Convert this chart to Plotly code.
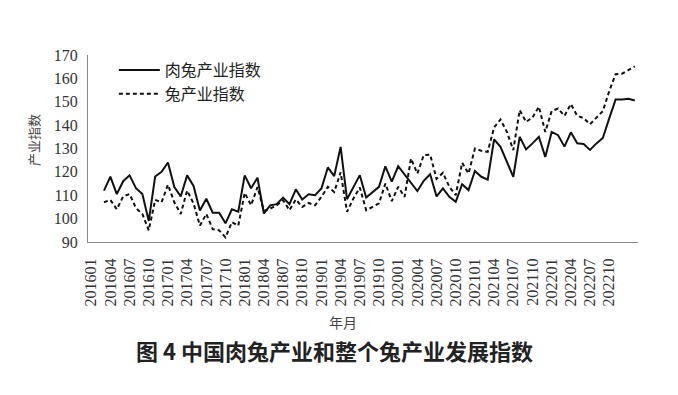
import plotly.graph_objects as go

# Axis categories (months), tick labels and series values
axis_months = [f"{y}{m:02d}" for y in range(2016, 2024) for m in range(1, 13)]
axis_months = axis_months[:axis_months.index("202302") + 1]
data_months = axis_months[2:]

tick_labels = ["201601", "201604", "201607", "201610", "201701", "201704", "201707", "201710",
               "201801", "201804", "201807", "201810", "201901", "201904", "201907", "201910",
               "202001", "202004", "202007", "202010", "202101", "202104", "202107", "202110",
               "202201", "202204", "202207", "202210"]

meat_rabbit_index = [
    112, 118, 110.5, 116, 118.5, 113, 110.5, 99, 118, 120,
    124, 113.5, 109.5, 118.5, 114, 103.5, 108.5, 102.5, 102.5, 98,
    104, 103, 118.5, 113, 117.5, 102.2, 105.7, 106.2, 109, 106.2,
    112.5, 108.2, 110.4, 110, 112.9, 121.9, 118.2, 130.7, 108.3, 113.6,
    118.6, 109, 111.4, 113.6, 122.4, 115.8, 122.4, 118.8, 115, 111.8,
    116.2, 119, 109.5, 112.9, 109.3, 107.2, 114.7, 112.2, 120.4, 117.9,
    116.7, 133.9, 130.7, 124.3, 117.9, 135, 129.6, 132.2, 135, 126.4,
    137.1, 135.7, 130.8, 136.9, 132.2, 131.9, 129.4, 132.2, 134.5, 142.9,
    151, 151, 151.3, 150.5]

rabbit_index = [
    107, 108, 104, 109.5, 110.5, 104.5, 102, 95, 108, 107,
    114.5, 107, 102, 112, 106.5, 97, 102, 95.5, 95, 92,
    98.5, 97, 111, 105.7, 113.5, 103.3, 104.3, 105.7, 107.9, 103.6,
    108.2, 105, 106.7, 105.7, 109.3, 113.6, 111.4, 119.8, 102.9, 108.6,
    113.3, 103.6, 105, 106.5, 115, 107.5, 113.6, 109.3, 125.7, 119.3,
    127.2, 127.4, 117, 119.6, 113.6, 110, 123.9, 119.3, 130, 129,
    128.6, 139, 142.4, 137.1, 129.3, 146.4, 141.4, 143.3, 147.9, 137.1,
    146, 147.1, 144, 149, 144, 143, 140.4, 143, 146, 154.5,
    161.8, 162, 163.6, 165.1]

fig = go.Figure()
fig.add_trace(go.Scatter(x=data_months, y=meat_rabbit_index, mode="lines",
                         name="肉兔产业指数", line=dict(color="#111111", width=2)))
fig.add_trace(go.Scatter(x=data_months, y=rabbit_index, mode="lines",
                         name="兔产业指数", line=dict(color="#111111", width=2, dash="4px,3px")))

serif = "Liberation Serif, Times New Roman, serif"
legend_font = "Liberation Serif, Noto Sans CJK SC"
cjk = "Noto Sans CJK SC"

fig.update_layout(
    width=678, height=395,
    margin=dict(l=80, r=48, t=47, b=161),
    paper_bgcolor="white", plot_bgcolor="white",
    showlegend=True,
    legend=dict(x=0.047, y=1.01, xanchor="left", yanchor="top",
                bgcolor="rgba(0,0,0,0)", font=dict(family=legend_font, size=16, color="#222222"),
                tracegroupgap=0, itemwidth=41),
    xaxis=dict(type="category", categoryorder="array", categoryarray=axis_months,
               range=[-0.5, len(axis_months) - 0.5],
               tickmode="array", tickvals=tick_labels, ticktext=tick_labels,
               tickangle=-90, tickfont=dict(family=serif, size=16, color="#333333"),
               showgrid=False, zeroline=False, showline=True, linecolor="#8a8a8a", linewidth=1,
               ticks="", ticklabelstandoff=9),
    yaxis=dict(range=[90, 170], dtick=10, tick0=90,
               tickfont=dict(family=serif, size=16, color="#333333"),
               showgrid=False, zeroline=False, showline=True, linecolor="#8a8a8a", linewidth=1,
               ticks="", ticklabelstandoff=6),
    annotations=[
        dict(text="产业指数", xref="paper", yref="paper", x=-0.1, y=0.545,
             textangle=-90, showarrow=False, font=dict(family=cjk, size=13, color="#444444"),
             xanchor="center", yanchor="middle"),
        dict(text="年月", xref="paper", yref="paper", x=(343 - 88) / 550, y=-(322 - 242) / 187,
             showarrow=False, font=dict(family=cjk, size=14, color="#444444"),
             xanchor="center", yanchor="middle"),
        dict(text="<b>图 4 中国肉兔产业和整个兔产业发展指数</b>", xref="paper", yref="paper",
             x=(334 - 88) / 550, y=-(350 - 242) / 187,
             showarrow=False, font=dict(family=cjk, size=22, color="#222222"),
             xanchor="center", yanchor="middle"),
    ],
)

fig.write_html("out.html")
